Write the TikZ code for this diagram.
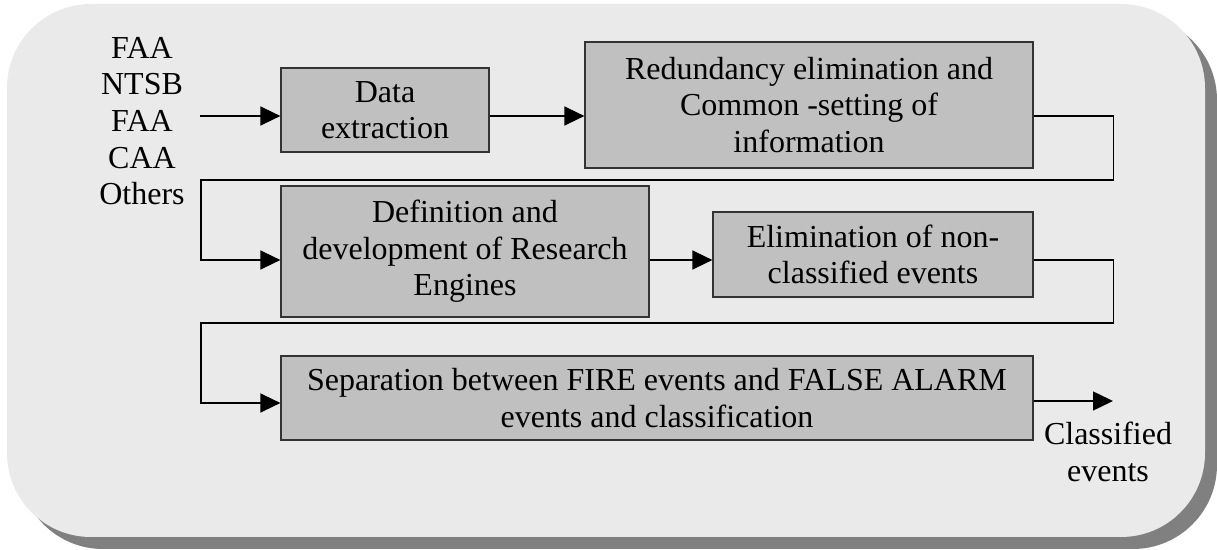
\documentclass[tikz,border=0pt]{standalone}
\usepackage{fontspec}
\setmainfont{Liberation Serif}
\usepackage{tikz}
\usetikzlibrary{arrows.meta, positioning}
\definecolor{panelbg}{HTML}{EAEAEA}
\definecolor{panelshadow}{HTML}{808080}
\definecolor{stepfill}{HTML}{C0C0C0}

\begin{document}
\begin{tikzpicture}[x=0.5pt, y=-0.5pt, >={Triangle[length=10pt, width=9.5pt]},
    stepbox/.style={draw=black!80, fill=stepfill, line width=0.6pt, inner sep=0pt,
      align=center, font=\fontsize{16pt}{18.3pt}\selectfont},
    plaintext/.style={inner sep=0pt, align=center, font=\fontsize{16pt}{18.3pt}\selectfont},
    flow/.style={line width=0.7pt}]
    \useasboundingbox (0,0) rectangle (1217,550);
    % panel with its shadow
    \fill[panelshadow, rounded corners=42pt] (19,16) rectangle (1217,549);
    \fill[panelbg, rounded corners=42pt] (7,4) rectangle (1205,537);

    % sources and result
    \node[plaintext] (sources) at (142,121) {FAA\\NTSB\\FAA\\CAA\\Others};
    \node[plaintext] (classified) at (1108,452) {Classified\\events};

    % processing steps
    \node[stepbox, minimum width=104pt, minimum height=42pt] (extract) at (385,110) {Data\\extraction};
    \node[stepbox, minimum width=224pt, minimum height=63pt] (redund) at (809,105)
      {Redundancy elimination and\\Common -setting of\\information};
    \node[stepbox, minimum width=184pt, minimum height=65.5pt] (defin) at (465,251.5)
      {Definition and\\development of Research\\Engines};
    \node[stepbox, minimum width=160pt, minimum height=42.5pt] (elimin) at (873,254.5)
      {Elimination of non-\\classified events};
    \node[stepbox, minimum width=376pt, minimum height=42pt] (separ) at (657,398)
      {Separation between FIRE events and FALSE ALARM\\events and classification};

    % levels of the arrows
    \coordinate (in) at (200,116);
    \coordinate (row2) at (0,260);
    \coordinate (row3) at (0,403);
    \coordinate (out) at (1113,401);

    \draw[flow, ->] (in) -- (extract.west |- in);
    \draw[flow, ->] (extract.east |- in) -- (redund.west |- in);
    \draw[flow, ->] (redund.east |- in) -- ++(80,0) |- (201,180) |- (defin.west |- row2);
    \draw[flow, ->] (defin.east |- row2) -- (elimin.west |- row2);
    \draw[flow, ->] (elimin.east |- row2) -- ++(80,0) |- (201,323) |- (separ.west |- row3);
    \draw[flow, ->] (separ.east |- out) -- (out);
  \end{tikzpicture}
\end{document}
